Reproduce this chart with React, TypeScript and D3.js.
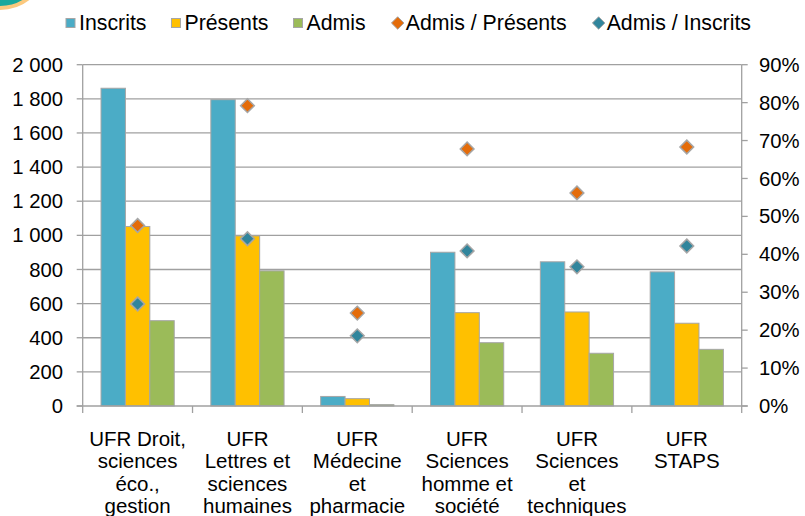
import { useEffect, useRef } from "react";
import * as d3 from "d3";

const categories = [
  ["UFR Droit,", "sciences", "éco.,", "gestion"],
  ["UFR", "Lettres et", "sciences", "humaines"],
  ["UFR", "Médecine", "et", "pharmacie"],
  ["UFR", "Sciences", "homme et", "société"],
  ["UFR", "Sciences", "et", "techniques"],
  ["UFR", "STAPS"],
];

const inscrits = [1862, 1795, 56, 901, 845, 786];
const presents = [1052, 997, 43, 547, 551, 485];
const admis = [500, 792, 8, 371, 309, 332];

const admisSurPresents = [47.6, 79.2, 24.5, 67.8, 56.2, 68.3];
const admisSurInscrits = [26.9, 44.1, 18.5, 40.9, 36.7, 42.2];

const leftTicks = [0, 200, 400, 600, 800, 1000, 1200, 1400, 1600, 1800, 2000];
const rightTicks = [0, 10, 20, 30, 40, 50, 60, 70, 80, 90];

const seriesNames = ["Inscrits", "Présents", "Admis"];
const barColors = ["#4bacc6", "#ffc000", "#9bbb59"];
const dotNames = ["Admis / Présents", "Admis / Inscrits"];
const dotColors = ["#e46c0a", "#31859c"];

const W = 805;
const H = 516;
const FONT = "'Liberation Sans', Arial, sans-serif";

export default function App() {
  const ref = useRef<SVGSVGElement>(null);

  useEffect(() => {
    if (!ref.current) return;
    const svg = d3.select(ref.current);
    svg.selectAll("*").remove();

    const left = 82.7;
    const right = 741.7;
    const top = 64.7;
    const bottom = 406;

    const keys = categories.map((c, i) => String(i));
    const x0 = d3.scaleBand().domain(keys).range([left, right]).padding(0);
    const x1 = d3
      .scaleBand()
      .domain(seriesNames)
      .range([0, x0.bandwidth()])
      .paddingInner(0)
      .paddingOuter(0.75);
    const y = d3.scaleLinear().domain([0, 2000]).range([bottom, top]);
    const yr = d3.scaleLinear().domain([0, 90]).range([bottom, top]);

    // corner decoration
    svg
      .append("circle")
      .attr("cx", 0)
      .attr("cy", -38)
      .attr("r", 46)
      .attr("fill", "#19a89d")
      .attr("stroke", "#fbc97e")
      .attr("stroke-width", 4);

    const grey = "#a0a0a0";

    // gridlines
    svg
      .append("g")
      .selectAll("line")
      .data(leftTicks.slice(1))
      .join("line")
      .attr("x1", left)
      .attr("x2", right)
      .attr("y1", (d) => y(d))
      .attr("y2", (d) => y(d))
      .attr("stroke", grey)
      .attr("stroke-width", 1.3);

    // bars
    const series = [inscrits, presents, admis];
    series.forEach((vals, si) => {
      svg
        .append("g")
        .selectAll("rect")
        .data(vals)
        .join("rect")
        .attr("x", (d, i) => x0(String(i))! + x1(seriesNames[si])!)
        .attr("y", (d) => y(d))
        .attr("width", x1.bandwidth())
        .attr("height", (d) => bottom - y(d))
        .attr("fill", barColors[si])
        .attr("stroke", "#a6a6a6")
        .attr("stroke-width", 1);
    });

    // axes lines
    const axes = svg.append("g").attr("stroke", grey).attr("stroke-width", 1.3);
    axes.append("line").attr("x1", left).attr("x2", left).attr("y1", top).attr("y2", bottom);
    axes.append("line").attr("x1", right).attr("x2", right).attr("y1", top).attr("y2", bottom);
    axes.append("line").attr("x1", left - 6).attr("x2", right + 6).attr("y1", bottom).attr("y2", bottom);
    leftTicks.forEach((t) => {
      axes.append("line").attr("x1", left - 6).attr("x2", left).attr("y1", y(t)).attr("y2", y(t));
    });
    rightTicks.forEach((t) => {
      axes.append("line").attr("x1", right).attr("x2", right + 6).attr("y1", yr(t)).attr("y2", yr(t));
    });
    d3.range(categories.length + 1).forEach((i) => {
      const xx = left + i * x0.step();
      axes.append("line").attr("x1", xx).attr("x2", xx).attr("y1", bottom).attr("y2", bottom + 7);
    });

    // tick labels
    const fmt = (v: number) => d3.format(",")(v).replace(/,/g, " ");
    svg
      .append("g")
      .selectAll("text")
      .data(leftTicks)
      .join("text")
      .attr("x", 63)
      .attr("y", (d) => y(d))
      .attr("dy", "0.35em")
      .attr("text-anchor", "end")
      .attr("font-family", FONT)
      .attr("font-size", 20.3)
      .attr("fill", "#000")
      .text((d) => fmt(d));

    svg
      .append("g")
      .selectAll("text")
      .data(rightTicks)
      .join("text")
      .attr("x", 759)
      .attr("y", (d) => yr(d))
      .attr("dy", "0.35em")
      .attr("font-family", FONT)
      .attr("font-size", 20.3)
      .attr("fill", "#000")
      .text((d) => d + "%");

    // category labels
    const cat = svg.append("g");
    categories.forEach((lines, i) => {
      const cx = x0(String(i))! + x0.bandwidth() / 2;
      lines.forEach((ln, li) => {
        cat
          .append("text")
          .attr("x", cx)
          .attr("y", 446 + li * 22.3)
          .attr("text-anchor", "middle")
          .attr("font-family", FONT)
          .attr("font-size", 20.5)
          .attr("fill", "#000")
          .text(ln);
      });
    });

    // diamonds
    const diamond = d3.symbol().type(d3.symbolDiamond2).size(120);
    [admisSurPresents, admisSurInscrits].forEach((vals, di) => {
      svg
        .append("g")
        .selectAll("path")
        .data(vals)
        .join("path")
        .attr("d", diamond)
        .attr(
          "transform",
          (d, i) => `translate(${x0(String(i))! + x0.bandwidth() / 2},${yr(d)})`
        )
        .attr("fill", dotColors[di])
        .attr("stroke", "#a6a6a6")
        .attr("stroke-width", 1.5);
    });

    // legend
    const lg = svg.append("g");
    let lx = 66;
    const ly = 23;
    const items = [
      ...seriesNames.map((n, i) => ({ name: n, color: barColors[i], kind: "sq" })),
      ...dotNames.map((n, i) => ({ name: n, color: dotColors[i], kind: "dm" })),
    ];
    items.forEach((it) => {
      if (it.kind === "sq") {
        lg.append("rect")
          .attr("x", lx)
          .attr("y", ly - 4.5)
          .attr("width", 9)
          .attr("height", 9)
          .attr("fill", it.color)
          .attr("stroke", "#a6a6a6")
          .attr("stroke-width", 1);
        lx += 13;
      } else {
        lg.append("path")
          .attr("d", d3.symbol().type(d3.symbolDiamond2).size(100)())
          .attr("transform", `translate(${lx + 7},${ly})`)
          .attr("fill", it.color)
          .attr("stroke", "#a6a6a6")
          .attr("stroke-width", 1);
        lx += 15;
      }
      const t = lg
        .append("text")
        .attr("x", lx)
        .attr("y", ly)
        .attr("dy", "0.35em")
        .attr("font-family", FONT)
        .attr("font-size", 21.3)
        .attr("fill", "#000")
        .text(it.name);
      lx += (t.node() as SVGTextElement).getComputedTextLength() + 25;
    });
  }, []);

  return (
    <div style={{ position: "absolute", left: 0, top: 0 }}>
      <svg ref={ref} width={W} height={H} style={{ display: "block", background: "#fff" }} />
    </div>
  );
}
